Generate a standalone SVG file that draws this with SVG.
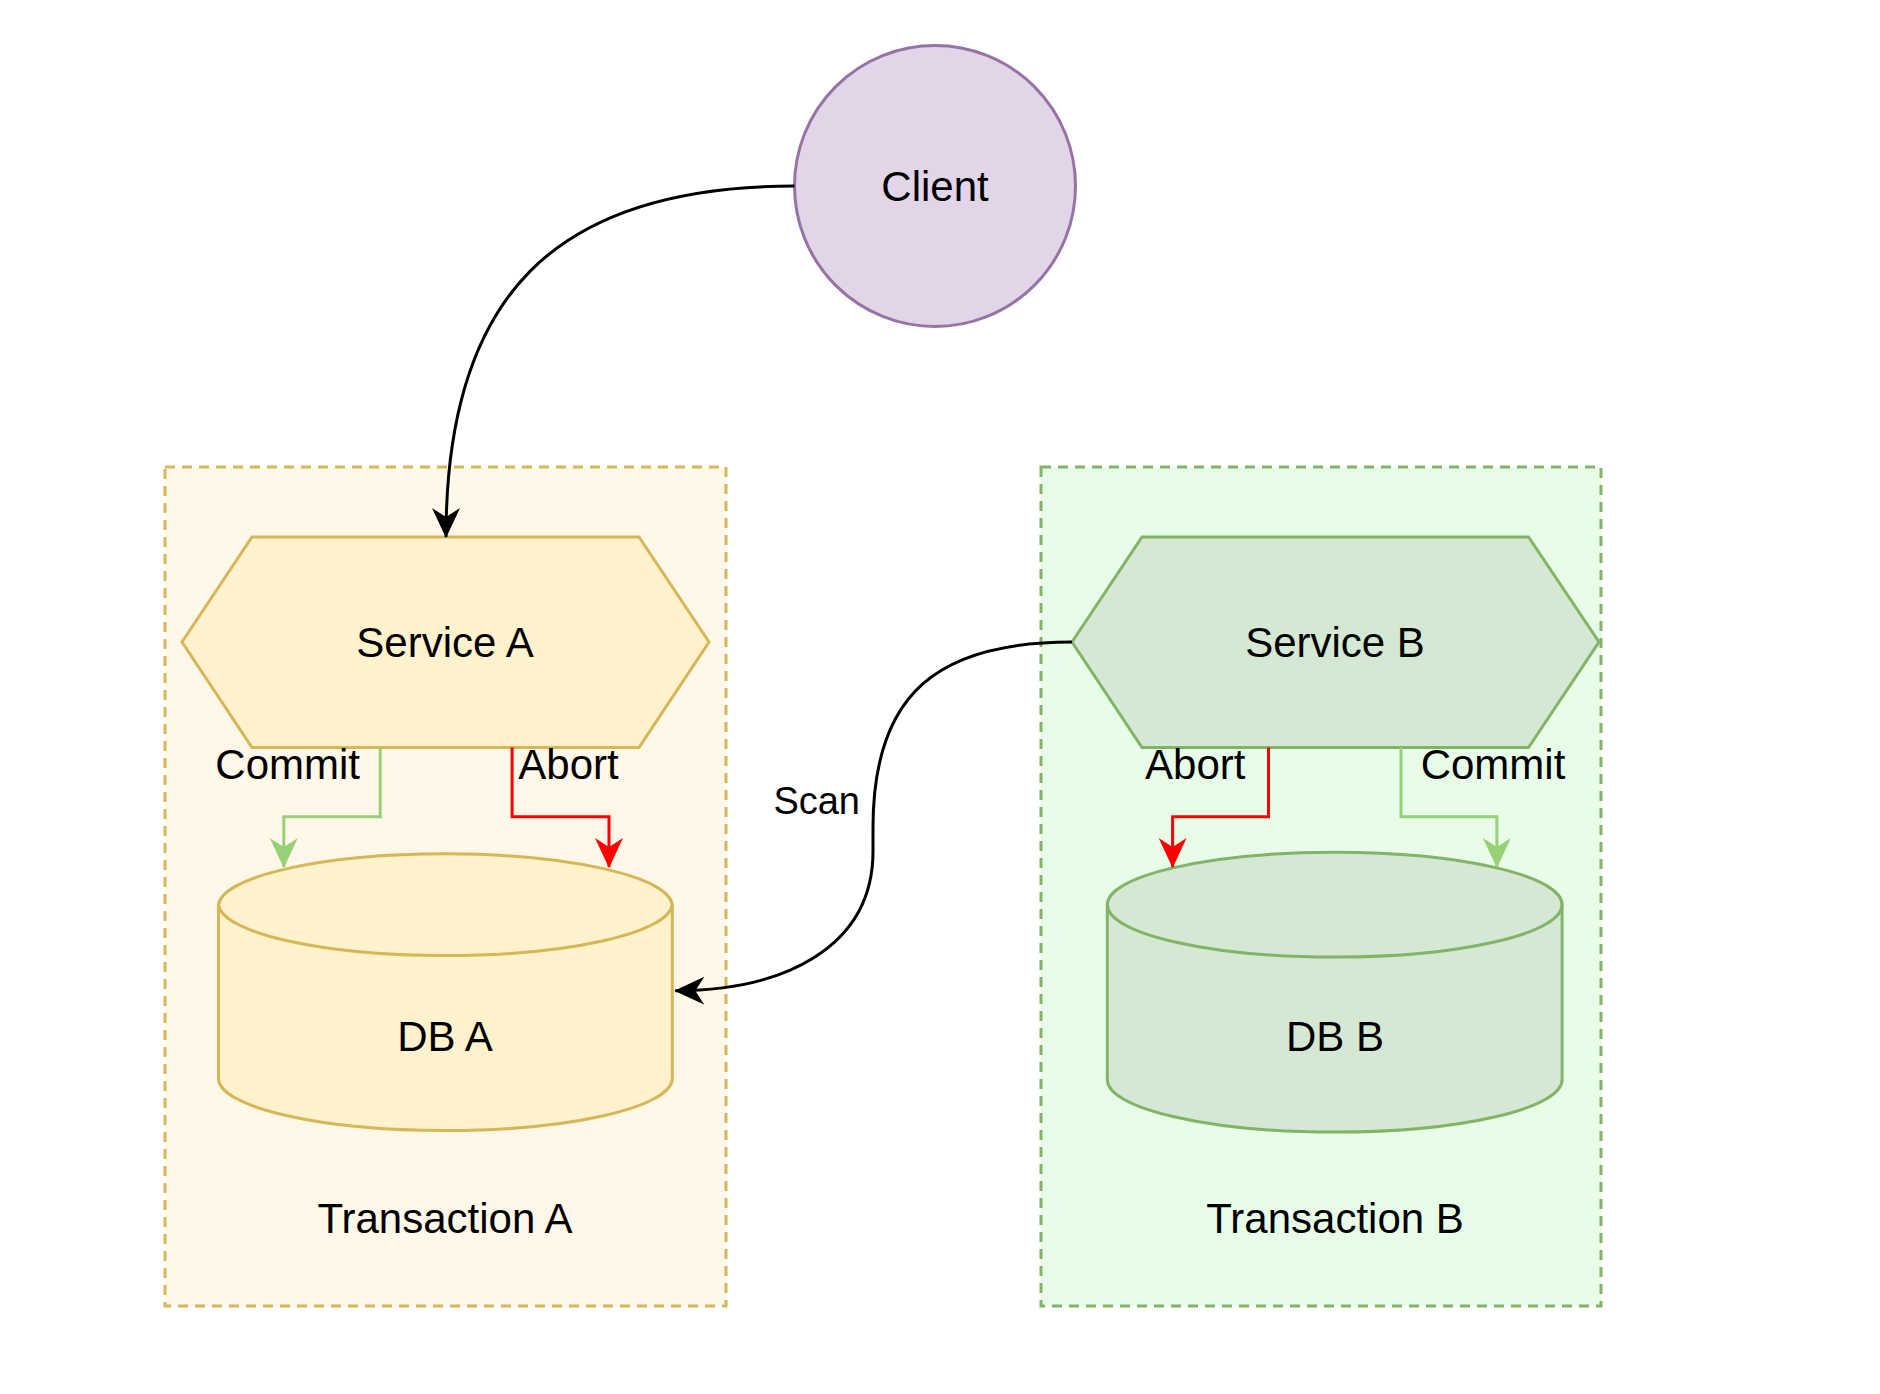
<svg xmlns="http://www.w3.org/2000/svg" width="1880" height="1394" viewBox="0 0 1880 1394">
<style>
text{font-family:"Liberation Sans",Arial,Helvetica,sans-serif;fill:#000;text-anchor:middle;}
.lbl{font-size:42px;}
.scan{font-size:38px;}
.line{fill:none;stroke-width:3;}
</style>
<defs>
<marker id="arrBlack" viewBox="0 0 30 28" refX="29" refY="14" markerWidth="30" markerHeight="28" markerUnits="userSpaceOnUse" orient="auto"><path d="M0,0 L30,14 L0,28 L9,14 Z" fill="#000"/></marker>
<marker id="arrRed" viewBox="0 0 30 28" refX="29" refY="14" markerWidth="30" markerHeight="28" markerUnits="userSpaceOnUse" orient="auto"><path d="M0,0 L30,14 L0,28 L9,14 Z" fill="#ff0000"/></marker>
<marker id="arrGreen" viewBox="0 0 30 28" refX="29" refY="14" markerWidth="30" markerHeight="28" markerUnits="userSpaceOnUse" orient="auto"><path d="M0,0 L30,14 L0,28 L9,14 Z" fill="#97d077"/></marker>
</defs>
<rect width="1880" height="1394" fill="#fff"/>
<g id="transactionA">
<rect x="165" y="467" width="561" height="839" fill="#fff7e7" stroke="#d6b656" stroke-width="3" stroke-dasharray="10 7"/>
<text class="lbl" x="445" y="1233">Transaction A</text>
</g>
<g id="transactionB">
<rect x="1041" y="467" width="560" height="839" fill="#e8fde8" stroke="#82b366" stroke-width="3" stroke-dasharray="10 7"/>
<text class="lbl" x="1335" y="1233">Transaction B</text>
</g>
<g id="client">
<circle cx="935" cy="186" r="140.5" fill="#e1d5e7" stroke="#9673a6" stroke-width="3"/>
<text class="lbl" x="935" y="201">Client</text>
</g>
<g id="serviceA">
<polygon points="182,642 252,537 639,537 709,642 639,747.5 252,747.5" fill="#fff2cc" stroke="#d6b656" stroke-width="3"/>
<text class="lbl" x="445" y="657">Service A</text>
</g>
<g id="serviceB">
<polygon points="1072,642 1142,537 1528.5,537 1599,642 1528.5,747.5 1142,747.5" fill="#d5e8d4" stroke="#82b366" stroke-width="3"/>
<text class="lbl" x="1335" y="657">Service B</text>
</g>
<g id="dbA">
<path d="M218.5,904.7 A227,52.4 0 0 1 672.3,904.7 L672.3,1079.7 A227,52.4 0 0 1 218.5,1079.7 Z" fill="#fff2cc" stroke="#d6b656" stroke-width="3"/>
<path d="M218.5,904.7 A227,52.4 0 0 0 672.3,904.7" fill="none" stroke="#d6b656" stroke-width="3"/>
<text class="lbl" x="445" y="1051">DB A</text>
</g>
<g id="dbB">
<path d="M1107.3,904.7 A227.4,52.4 0 0 1 1562.1,904.7 L1562.1,1079.7 A227.4,52.4 0 0 1 1107.3,1079.7 Z" fill="#d5e8d4" stroke="#82b366" stroke-width="3"/>
<path d="M1107.3,904.7 A227.4,52.4 0 0 0 1562.1,904.7" fill="none" stroke="#82b366" stroke-width="3"/>
<text class="lbl" x="1335" y="1051">DB B</text>
</g>
<g id="connectors">
<path class="line" d="M794.5,186 C553.7,186 446,296.6 446,537" stroke="#000" marker-end="url(#arrBlack)"/>
<path class="line" d="M380.2,747.5 L380.2,816.7 L283.8,816.7 L283.8,867" stroke="#97d077" marker-end="url(#arrGreen)"/>
<path class="line" d="M512.1,747.5 L512.1,816.7 L609,816.7 L609,867" stroke="#ff0000" marker-end="url(#arrRed)"/>
<path class="line" d="M1268.5,747.5 L1268.5,816.7 L1172.6,816.7 L1172.6,867" stroke="#ff0000" marker-end="url(#arrRed)"/>
<path class="line" d="M1401,747.5 L1401,816.7 L1496.9,816.7 L1496.9,867" stroke="#97d077" marker-end="url(#arrGreen)"/>
<path class="line" d="M1072,642 C939.3,642 873,692 873,827.5 L873,851.3 C873,949.2 781,990.7 675.3,990.7" stroke="#000" marker-end="url(#arrBlack)"/>
<text class="lbl" x="287.7" y="779">Commit</text>
<text class="lbl" x="568.5" y="779">Abort</text>
<text class="lbl" x="1195.3" y="779">Abort</text>
<text class="lbl" x="1493" y="779">Commit</text>
<text class="scan" x="816.7" y="814">Scan</text>
</g>
</svg>
